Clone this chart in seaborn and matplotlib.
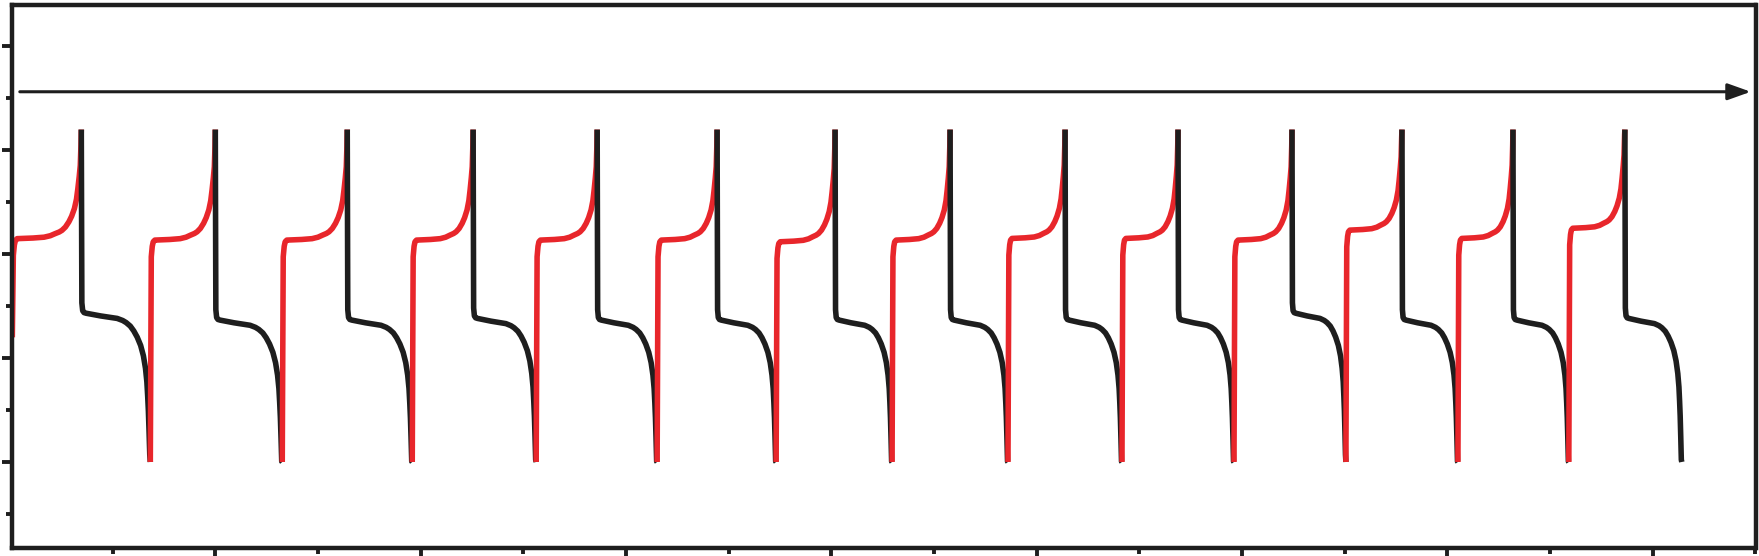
import seaborn as sns
import matplotlib.pyplot as plt
from matplotlib.ticker import MultipleLocator

# Turning points of each cycle (time)
charge_start = [0.23, 13.67, 26.52, 39.18, 51.25, 63.03, 74.62, 85.91,
                97.20, 108.30, 119.21, 130.11, 141.02, 151.82]
charge_end = [6.95, 20.00, 32.85, 45.11, 57.19, 68.87, 80.36, 91.56,
              102.76, 113.76, 124.86, 135.57, 146.38, 157.28]
discharge_end = charge_start[1:] + [162.82]

# Plateau voltage at the start of each half cycle (V)
charge_plateau = [1.075, 1.068, 1.068, 1.068, 1.068, 1.068, 1.06, 1.068,
                  1.076, 1.076, 1.068, 1.116, 1.076, 1.125]
discharge_plateau = [0.716, 0.683, 0.683, 0.691, 0.683, 0.683, 0.683, 0.683,
                     0.683, 0.683, 0.716, 0.683, 0.683, 0.691]

first_start_v = 0.60
v_upper = 1.60
v_lower = 0.0

# Shape of a half cycle: fraction of its duration, voltage relative to plateau
charge_frac = [0.015, 0.03, 0.045, 0.07, 0.30, 0.46, 0.55, 0.62, 0.68, 0.72,
               0.77, 0.82, 0.86, 0.90, 0.93, 0.95, 0.97, 0.985, 0.995]
charge_rise = [-0.08, -0.03, -0.008, 0.0, 0.003, 0.007, 0.014, 0.024, 0.032, 0.04,
               0.056, 0.081, 0.108, 0.145, 0.19, 0.241, 0.30, 0.353, 0.45]
discharge_frac = [0.008, 0.02, 0.04, 0.07, 0.28, 0.52, 0.60, 0.65, 0.71, 0.76,
                  0.81, 0.86, 0.90, 0.93, 0.95, 0.962, 0.972, 0.982, 0.992]
discharge_drop = [0.05, 0.012, 0.003, 0.0, -0.013, -0.025, -0.035, -0.045, -0.062,
                  -0.085, -0.115, -0.155, -0.205, -0.265, -0.33, -0.40, -0.47,
                  -0.57, -0.68]

red = "#E8262B"
black = "#1E1E1E"

sns.set_theme(style="ticks")
fig = plt.figure(figsize=(17.59, 5.56), dpi=100)
ax = fig.add_axes([12 / 1759, 8 / 556, 1743.5 / 1759, 543.5 / 556])

for i in range(len(charge_start)):
    # charge (red)
    t0, t1 = charge_start[i], charge_end[i]
    v0 = first_start_v if i == 0 else v_lower
    ts = [t0] + [t0 + f * (t1 - t0) for f in charge_frac] + [t1]
    vs = [v0] + [charge_plateau[i] + r for r in charge_rise] + [v_upper]
    sns.lineplot(x=ts, y=vs, color=red, sort=False, estimator=None, ax=ax)

    # discharge (black)
    t0, t1 = charge_end[i], discharge_end[i]
    ts = [t0] + [t0 + f * (t1 - t0) for f in discharge_frac] + [t1]
    vs = [v_upper] + [discharge_plateau[i] + d for d in discharge_drop] + [v_lower]
    sns.lineplot(x=ts, y=vs, color=black, sort=False, estimator=None, ax=ax)

for line in ax.lines:
    line.set_linewidth(4.0)
    line.set_solid_joinstyle("round")
    line.set_solid_capstyle("butt")

# arrow across the top
ax.annotate("", xy=(169.54, 1.782), xytext=(0.96, 1.782),
            arrowprops=dict(arrowstyle="-|>,head_length=0.7,head_width=0.25",
                            color=black, lw=2.2, shrinkA=0, shrinkB=0,
                            mutation_scale=20))

ax.set_xlim(0.2, 170)
ax.set_ylim(-0.414, 2.202)
ax.xaxis.set_major_locator(MultipleLocator(20))
ax.xaxis.set_minor_locator(MultipleLocator(10))
ax.yaxis.set_major_locator(MultipleLocator(0.5))
ax.yaxis.set_minor_locator(MultipleLocator(0.25))
ax.tick_params(which="major", direction="out", length=7, width=2.8, color=black,
               labelleft=False, labelbottom=False)
ax.tick_params(which="minor", direction="out", length=4, width=2.8, color=black)
for s in ax.spines.values():
    s.set_linewidth(3.2)
    s.set_color(black)
ax.set_xlabel("")
ax.set_ylabel("")

fig.savefig("out.png", dpi=100)
